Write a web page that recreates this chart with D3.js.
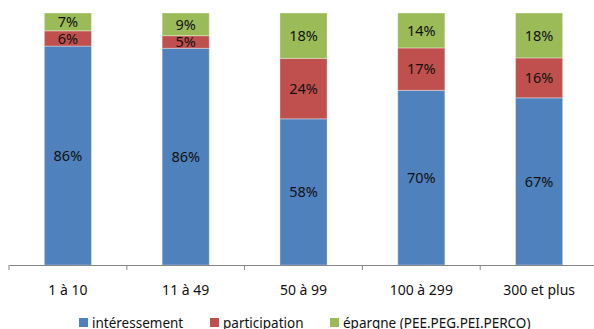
<!DOCTYPE html>
<html>
<head>
<meta charset="utf-8">
<script src="https://cdn.jsdelivr.net/npm/d3@7"></script>
<style>
  body { margin: 0; background: #fff; }
  svg { display: block; font-family: "Noto Sans", sans-serif; }
</style>
</head>
<body>
<div id="chart"></div>
<script>
var categories = ["1 à 10", "11 à 49", "50 à 99", "100 à 299", "300 et plus"];
var interessement = [86, 86, 58, 70, 67];
var participation = [6, 5, 24, 17, 16];
var epargne = [7, 9, 18, 14, 18];
var seriesNames = ["intéressement", "participation", "épargne (PEE.PEG.PEI.PERCO)"];
var seriesColors = ["#4F81BD", "#C0504D", "#9BBB59"];

var width = 594, height = 329;
var keys = ["a", "b", "c"];

// rows for d3.stack
var rows = categories.map(function(c, i) {
  return { cat: c, a: interessement[i], b: participation[i], c: epargne[i] };
});

var svg = d3.select("#chart").append("svg")
  .attr("width", width)
  .attr("height", height);

var x = d3.scaleBand()
  .domain(categories)
  .range([9, 598])
  .paddingInner(0.6)
  .paddingOuter(0.3);

var y = d3.scaleLinear().domain([0, 1]).range([265, 13]);

var stack = d3.stack().keys(keys).offset(d3.stackOffsetExpand);
var layers = stack(rows);

var layer = svg.selectAll(".layer")
  .data(layers)
  .enter().append("g")
  .attr("class", "layer")
  .attr("fill", function(d, i) { return seriesColors[i]; });

layer.selectAll("rect")
  .data(function(d) { return d; })
  .enter().append("rect")
  .attr("x", function(d) { return x(d.data.cat); })
  .attr("y", function(d) { return y(d[1]); })
  .attr("width", x.bandwidth())
  .attr("height", function(d) { return y(d[0]) - y(d[1]); })
  .attr("stroke", "rgba(255,255,255,0.35)")
  .attr("stroke-width", 1);

// value labels
layers.forEach(function(l) {
  svg.append("g").selectAll("text")
    .data(l)
    .enter().append("text")
    .attr("x", function(d) { return x(d.data.cat) + x.bandwidth() / 2; })
    .attr("y", function(d) { return (y(d[0]) + y(d[1])) / 2; })
    .attr("dy", "0.36em")
    .attr("text-anchor", "middle")
    .attr("font-size", 14.5)
    .attr("fill", "#111")
    .text(function(d) { return d.data[l.key] + "%"; });
});

// x axis
var axis = svg.append("g")
  .attr("transform", "translate(0,265)")
  .call(d3.axisBottom(x).tickSize(0).tickPadding(20));
axis.select(".domain").attr("stroke", "#868686");
axis.selectAll("text").attr("font-size", 14).attr("fill", "#111").attr("font-family", "Noto Sans, sans-serif");

// tick marks at category boundaries
svg.append("g").selectAll("line")
  .data(d3.range(categories.length + 1))
  .enter().append("line")
  .attr("x1", function(i) { return 9 + i * x.step(); })
  .attr("x2", function(i) { return 9 + i * x.step(); })
  .attr("y1", 265)
  .attr("y2", 270)
  .attr("stroke", "#868686");

// legend
var legendX = [79, 210, 330];
var legend = svg.selectAll(".legend")
  .data(seriesNames)
  .enter().append("g")
  .attr("class", "legend")
  .attr("transform", function(d, i) { return "translate(" + legendX[i] + ",318)"; });

legend.append("rect")
  .attr("width", 9)
  .attr("height", 9)
  .attr("fill", function(d, i) { return seriesColors[i]; });

legend.append("text")
  .attr("x", 13)
  .attr("y", 10)
  .attr("font-size", 13.5)
  .attr("fill", "#111")
  .text(function(d) { return d; });
</script>
</body>
</html>
